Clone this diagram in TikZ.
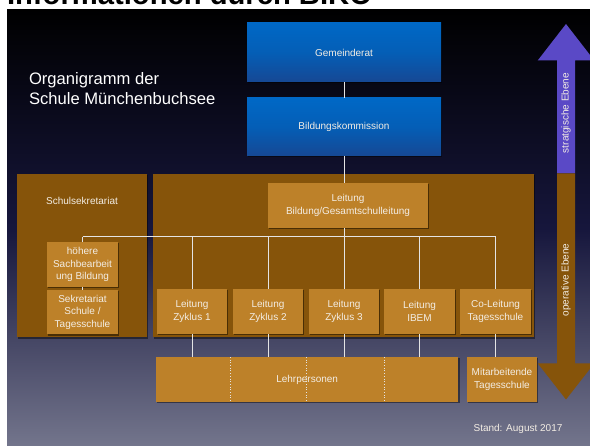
\documentclass[tikz,border=0pt]{standalone}
\usepackage{fontspec}
\setmainfont{Liberation Sans}
\usetikzlibrary{shadows}

\definecolor{navymid}{RGB}{22,22,60}
\definecolor{slatebot}{RGB}{115,117,140}
\definecolor{blueTop}{RGB}{0,104,198}
\definecolor{blueMid}{RGB}{4,94,182}
\definecolor{blueBot}{RGB}{22,72,148}
\definecolor{panelbrown}{RGB}{134,84,10}
\definecolor{boxbrown}{RGB}{189,129,41}
\definecolor{arrowpurple}{RGB}{90,73,198}
\definecolor{lighttext}{RGB}{243,237,228}
\definecolor{linegray}{RGB}{228,228,228}

\begin{document}
\begin{tikzpicture}[x=1pt,y=-1pt,
  every node/.style={inner sep=0pt, outer sep=0pt},
  smallfont/.style={font=\fontsize{10}{12.3}\selectfont},
  shadowed/.style={drop shadow={shadow xshift=1.2pt,shadow yshift=-1.5pt,opacity=0.45,fill=black}},
  bluebox/.style={shadowed, minimum width=194pt, minimum height=58pt,
    top color=blueTop, bottom color=blueBot, middle color=blueMid,
    text=lighttext, smallfont},
  panel/.style={shadowed, fill=panelbrown},
  orgbox/.style={shadowed, fill=boxbrown, minimum height=45pt, minimum width=70pt,
    align=center, text=lighttext, smallfont},
  link/.style={draw=linegray, line width=0.8pt},
  levellabel/.style={rotate=90, text=lighttext, smallfont},
]
\useasboundingbox (0,0) rectangle (590,446);

% page and slide background
\fill[white] (0,0) rectangle (590,446);
\node[anchor=base west, font=\bfseries\fontsize{29.2}{32}\selectfont, text=black]
  (title) at (7,5) {Informationen durch BIKO};
\shade[top color=black, bottom color=slatebot, middle color=navymid]
  (7,10) rectangle (590,446);

% heading (anchored at the baseline of its last line)
\node[anchor=base west, align=left, text=white,
  font=\fontsize{16.6}{19.5}\selectfont] (heading) at (29,104.5)
  {Organigramm der\\Schule Münchenbuchsee};

% level arrow: strategic (up) and operative (down)
\fill[arrowpurple] (557,173.5) -- (557,60.5) -- (537.7,60.5) -- (566,24)
  -- (594.3,60.5) -- (575,60.5) -- (575,173.5) -- cycle;
\fill[panelbrown] (557,173.5) -- (557,363.3) -- (537.7,363.3) -- (566,399.5)
  -- (594.3,363.3) -- (575,363.3) -- (575,173.5) -- cycle;
\node[levellabel] (strat) at (566,113) {stratgische Ebene};
\node[levellabel] (oper) at (566,280) {operative Ebene};

% strategic level
\node[bluebox, minimum height=59pt] (gr) at (344,52.5) {Gemeinderat};
\node[bluebox] (biko) at (344,127) {Bildungskommission};

% operative level panels
\node[panel, minimum width=130pt, minimum height=163.5pt] (sekpanel) at (82,255.75) {};
\node[panel, minimum width=381pt, minimum height=163.5pt] (mainpanel) at (343.5,255.75) {};
\node[text=lighttext, smallfont] (seklabel) at (82,200.7) {Schulsekretariat};

% boxes
\node[orgbox, minimum width=160pt] (leit) at (348,205.5) {Leitung\\Bildung/Gesamtschulleitung};
\node[orgbox, minimum width=71pt] (hoeh) at (82.5,264.5) {höhere\\Sachbearbeit\\ung Bildung};
\node[orgbox, minimum width=71pt, minimum height=44.5pt] (sekr) at (82.5,312.25) {Sekretariat\\Schule /\\Tagesschule};
\node[orgbox] (z1) at (192,311.5) {Leitung\\Zyklus 1};
\node[orgbox] (z2) at (268,311.5) {Leitung\\Zyklus 2};
\node[orgbox] (z3) at (344,311.5) {Leitung\\Zyklus 3};
\node[orgbox, minimum width=71pt] (ibem) at (419.5,311.5) {Leitung\\IBEM};
\node[orgbox, minimum width=71pt] (co) at (495.5,311.5) {Co-Leitung\\Tagesschule};
\node[orgbox, minimum width=302.3pt] (lehr) at (307.15,379.5) {Lehrpersonen};
\node[orgbox] (mit) at (502,379.5) {Mitarbeitende\\Tagesschule};

% connectors
\coordinate (bus) at (0,236.7);
\draw[link] (gr.south) -- (biko.north);
\draw[link] (biko.south) -- (biko.south |- leit.north);
\draw[link] (leit.south -| z3.north) -- (z3.north);
\draw[link] (hoeh.north |- bus) -- (co.north |- bus);
\draw[link] (hoeh.north |- bus) -- (hoeh.north);
\draw[link] (z1.north |- bus) -- (z1.north);
\draw[link] (z2.north |- bus) -- (z2.north);
\draw[link] (ibem.north |- bus) -- (ibem.north);
\draw[link] (co.north |- bus) -- (co.north);
\draw[link] (hoeh.south) -- (sekr.north);
\draw[link] (z1.south) -- (z1.south |- lehr.north);
\draw[link] (z2.south) -- (z2.south |- lehr.north);
\draw[link] (z3.south) -- (z3.south |- lehr.north);
\draw[link] (ibem.south) -- (ibem.south |- lehr.north);
\draw[link] (co.south) -- (co.south |- mit.north);

% column dividers inside the teachers box
\coordinate (d1) at (230,357);
\coordinate (d2) at (306.7,357);
\coordinate (d3) at (384,357);
\foreach \d in {d1,d2,d3}
  \draw[draw=linegray, dotted, line width=0.7pt] (\d) -- (\d |- lehr.south);

% date
\node[text=lighttext, smallfont] (stand) at (518,429.3) {Stand: August 2017};
\end{tikzpicture}
\end{document}
